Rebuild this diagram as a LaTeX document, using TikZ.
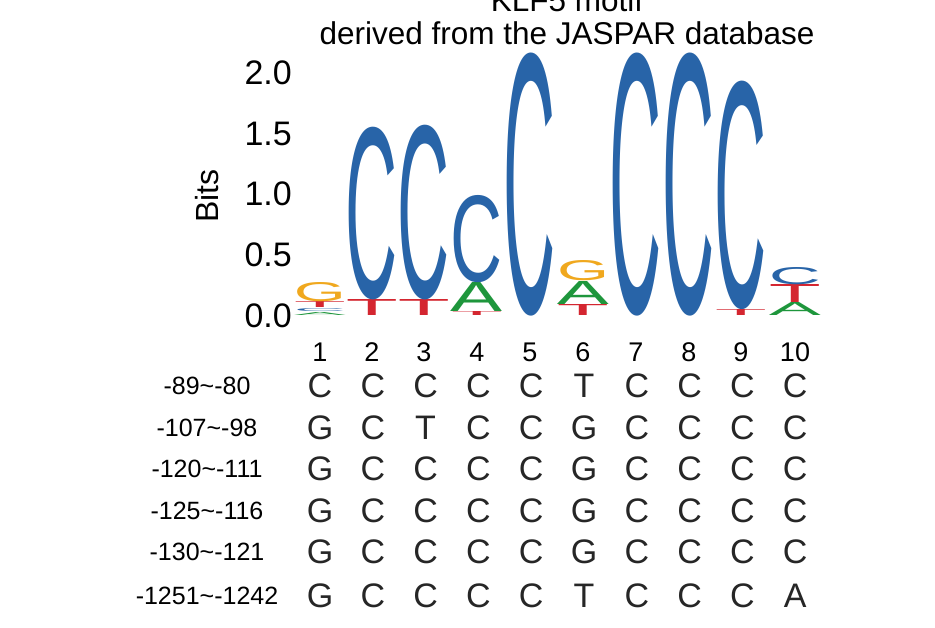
\documentclass[tikz,border=0pt]{standalone}
\usepackage{fontspec}
\setmainfont{Liberation Sans}
\setsansfont{Liberation Sans}
\definecolor{cC}{RGB}{40,100,168}
\definecolor{cG}{RGB}{240,168,30}
\definecolor{cT}{RGB}{212,38,48}
\definecolor{cA}{RGB}{30,150,60}
\newcommand\logoletter[5]{\node[inner sep=0pt,anchor=south,text=c#4] at (#1,#2) {\resizebox{52pt}{#3pt}{\sffamily #4}};}
\tikzset{tick/.style={anchor=east,inner sep=0pt,font=\fontsize{34}{34}\selectfont},
 num/.style={inner sep=0pt,font=\fontsize{27}{27}\selectfont},
 seq/.style={inner sep=0pt,font=\fontsize{34}{34}\selectfont,text=black!85},
 rowlab/.style={inner sep=0pt,font=\fontsize{25}{25}\selectfont}}
\begin{document}
\begin{tikzpicture}[x=1pt,y=-1pt]
\useasboundingbox[fill=white] (0,0) rectangle (935,628);
\node[inner sep=0pt,font=\fontsize{31.5}{31.5}\selectfont] (t1) at (567,0) {KLF5 motif};
\node[inner sep=0pt,font=\fontsize{31.5}{31.5}\selectfont] (t2) at (567,33) {derived from the JASPAR database};
\node[rotate=90,inner sep=0pt,font=\fontsize{32}{32}\selectfont] (bits) at (207,196) {Bits};
\node[tick] (y0) at (292,316) {0.0};
\node[tick] (y1) at (292,255) {0.5};
\node[tick] (y2) at (292,194) {1.0};
\node[tick] (y3) at (292,134) {1.5};
\node[tick] (y4) at (292,73) {2.0};
% column 1
\logoletter{320}{316}{3}{A}{}
\logoletter{320}{312}{3}{C}{}
\logoletter{320}{308}{6}{T}{}
\logoletter{320}{302}{19}{G}{}
% column 2
\logoletter{372}{316}{16}{T}{}
\logoletter{372}{300}{170}{C}{}
% column 3
\logoletter{424}{316}{16}{T}{}
\logoletter{424}{300}{172}{C}{}
% column 4
\logoletter{477}{316}{4}{T}{}
\logoletter{477}{312}{29}{A}{}
\logoletter{477}{283}{86}{C}{}
% column 5
\logoletter{530}{316}{259}{C}{}
% column 6
\logoletter{583}{316}{11}{T}{}
\logoletter{583}{305}{23}{A}{}
\logoletter{583}{281}{20}{G}{}
% column 7,8
\logoletter{636}{316}{259}{C}{}
\logoletter{689}{316}{259}{C}{}
% column 9
\logoletter{741}{316}{6}{T}{}
\logoletter{741}{310}{225}{C}{}
% column 10
\logoletter{795}{316}{13}{A}{}
\logoletter{795}{303}{18}{T}{}
\logoletter{795}{285}{17}{C}{}
% numbers
\foreach \i/\x in {1/320,2/372,3/424,4/477,5/530,6/583,7/636,8/689,9/741,10/795}
  \node[num] (n\i) at (\x,352) {\i};
% table
\foreach \r/\y/\lab/\s in {1/386/-89\textasciitilde-80/{C,C,C,C,C,T,C,C,C,C},
  2/428/-107\textasciitilde-98/{G,C,T,C,C,G,C,C,C,C},
  3/469/-120\textasciitilde-111/{G,C,C,C,C,G,C,C,C,C},
  4/511/-125\textasciitilde-116/{G,C,C,C,C,G,C,C,C,C},
  5/552/-130\textasciitilde-121/{G,C,C,C,C,G,C,C,C,C},
  6/596/-1251\textasciitilde-1242/{G,C,C,C,C,T,C,C,C,A}}{
  \node[rowlab] (r\r) at (207,\y) {\lab};
  \foreach \ch [count=\c] in \s {
    \node[seq] (s\r-\c) at ({320+(\c-1)*52.8},\y) {\ch};
  }
}
\end{tikzpicture}
\end{document}
